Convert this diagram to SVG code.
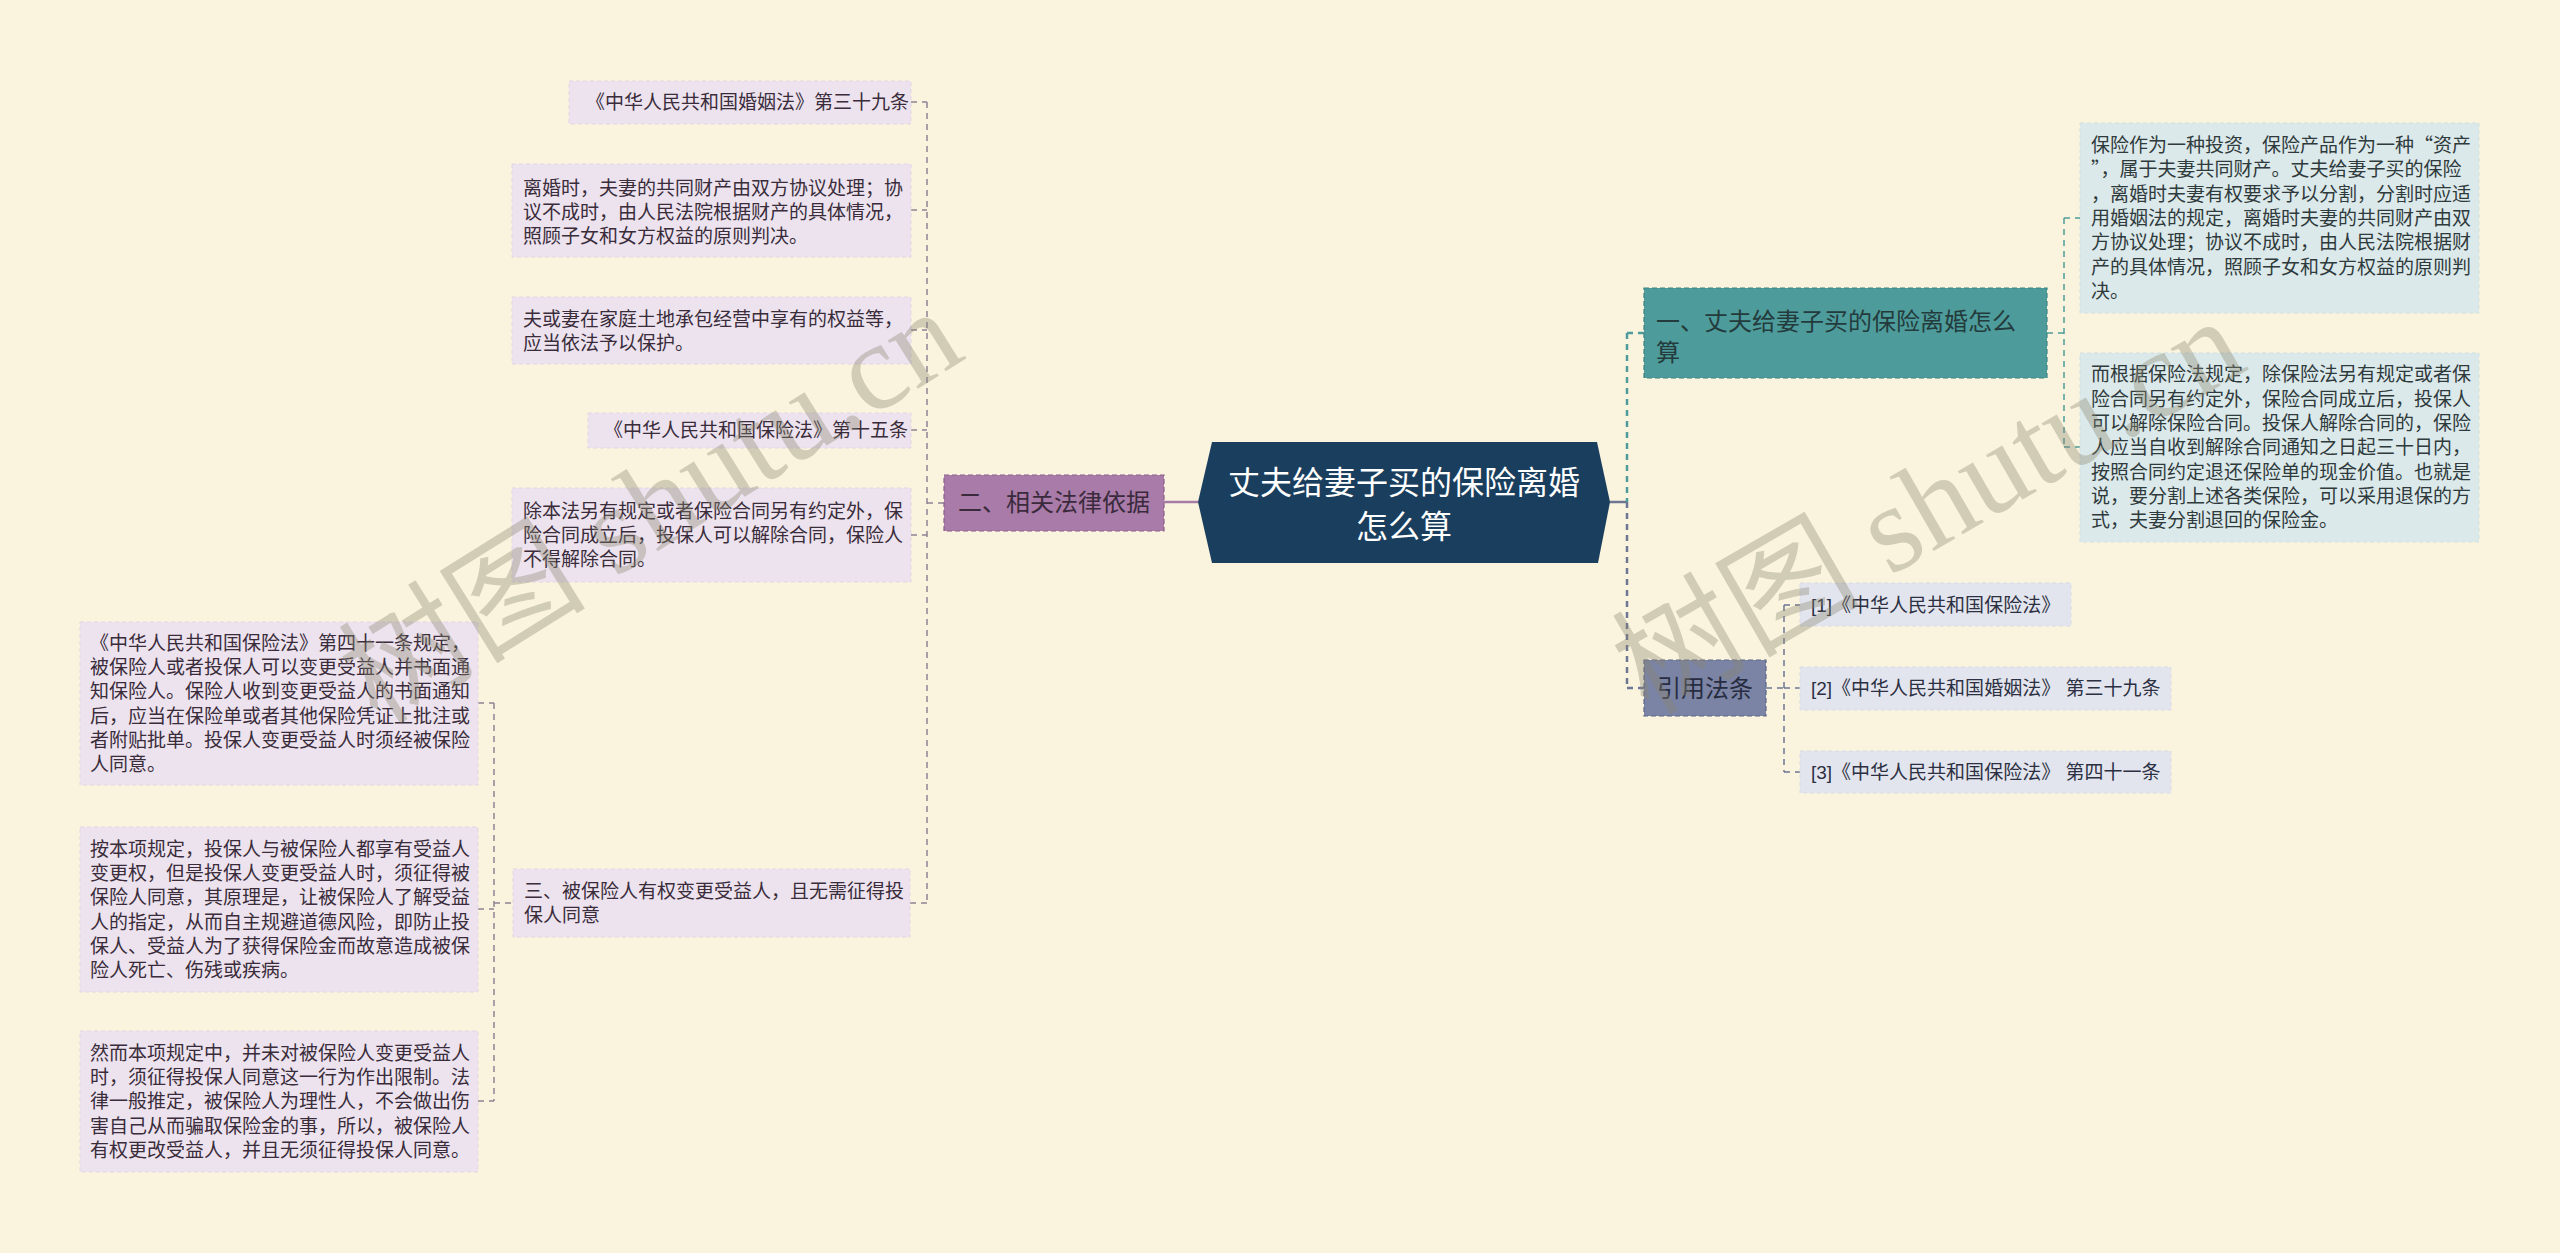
<svg xmlns="http://www.w3.org/2000/svg" width="2560" height="1253" viewBox="0 0 2560 1253">
<style>
text{font-family:"Liberation Sans","Noto Sans CJK SC",sans-serif;}
.t{font-size:19px;fill:#3a2c3a;}
.tr{font-size:19px;fill:#2f3a3c;}
.tc{font-size:19px;fill:#2c3042;}
.q{font-family:"Noto Sans CJK SC",sans-serif;}
.lc{fill:#ece3ee;stroke:#e2d6e5;stroke-width:1;stroke-dasharray:4 3;}
.rc{fill:#dce9ea;stroke:#d0e0e2;stroke-width:1;stroke-dasharray:4 3;}
.cc{fill:#e3e5ee;stroke:#d8dae6;stroke-width:1;stroke-dasharray:4 3;}
.cp{fill:none;stroke:#8f8295;stroke-width:1.5;stroke-dasharray:6 5;}
.ct{fill:none;stroke:#4f9a9a;stroke-width:1.5;stroke-dasharray:6 5;}
.cs{fill:none;stroke:#6e7694;stroke-width:1.5;stroke-dasharray:6 5;}
.wm{font-family:"Liberation Serif","Noto Sans CJK SC",serif;font-size:124px;fill:#8a8670;opacity:0.36;}
</style>
<rect width="2560" height="1253" fill="#faf4de"/>

<g id="connectors">
  <path class="cp" d="M927 102V903"/>
  <path class="cp" d="M911 102H927M911 210H927M911 330H927M911 430H927M911 535H927M910 903H927M927 503H944"/>
  <path class="cp" d="M494 703V1101"/>
  <path class="cp" d="M478 703H494M478 909H494M478 1101H494M494 903H513"/>
  <path d="M1164 502H1198" stroke="#a67ca6" stroke-width="2.5" fill="none"/>
  <path d="M1610 502H1627" stroke="#6e7694" stroke-width="2.5" fill="none"/>
  <path d="M1627 333V502" fill="none" stroke="#4f9a9a" stroke-width="2.5" stroke-dasharray="6 5"/>
  <path d="M1627 502V688" fill="none" stroke="#6e7694" stroke-width="2.5" stroke-dasharray="6 5"/>
  <path d="M1627 333H1644" fill="none" stroke="#4f9a9a" stroke-width="2.5" stroke-dasharray="6 5"/>
  <path d="M1627 688H1644" fill="none" stroke="#6e7694" stroke-width="2.5" stroke-dasharray="6 5"/>
  <path class="ct" d="M2064 218V447M2047 333H2064M2064 218H2080M2064 447H2080"/>
  <path class="cs" d="M1784 605V772M1766 688H1784M1784 605H1800M1784 688H1800M1784 772H1800"/>
</g>

<g id="center">
  <polygon points="1198,502 1212,442 1597,442 1610,502 1598,563 1212,563" fill="#1a3e5d"/>
  <text x="1404" y="494" text-anchor="middle" font-size="32" fill="#ffffff">丈夫给妻子买的保险离婚</text>
  <text x="1404" y="538" text-anchor="middle" font-size="32" fill="#ffffff">怎么算</text>
</g>

<g id="branch-2">
  <rect x="944" y="475" width="220" height="56" fill="#a87ba8" stroke="#8a5f8a" stroke-width="1.2" stroke-dasharray="5 3"/>
  <text x="958" y="511" font-size="24" fill="#3a2a3c">二、相关法律依据</text>
</g>

<g id="l1">
  <rect class="lc" x="569" y="81" width="342" height="43"/>
  <text class="t" x="586" y="109">《中华人民共和国婚姻法》第三十九条</text>
</g>
<g id="l2">
  <rect class="lc" x="512" y="164" width="399" height="93"/>
  <text class="t" x="523" y="195">离婚时，夫妻的共同财产由双方协议处理；协</text>
  <text class="t" x="523" y="219">议不成时，由人民法院根据财产的具体情况，</text>
  <text class="t" x="523" y="243">照顾子女和女方权益的原则判决。</text>
</g>
<g id="l3">
  <rect class="lc" x="512" y="297" width="399" height="67"/>
  <text class="t" x="523" y="326">夫或妻在家庭土地承包经营中享有的权益等，</text>
  <text class="t" x="523" y="350">应当依法予以保护。</text>
</g>
<g id="l4">
  <rect class="lc" x="588" y="413" width="323" height="35"/>
  <text class="t" x="604" y="437">《中华人民共和国保险法》第十五条</text>
</g>
<g id="l5">
  <rect class="lc" x="512" y="488" width="399" height="94"/>
  <text class="t" x="523" y="518">除本法另有规定或者保险合同另有约定外，保</text>
  <text class="t" x="523" y="542">险合同成立后，投保人可以解除合同，保险人</text>
  <text class="t" x="523" y="566">不得解除合同。</text>
</g>
<g id="l6">
  <rect class="lc" x="513" y="869" width="397" height="68"/>
  <text class="t" x="524" y="898">三、被保险人有权变更受益人，且无需征得投</text>
  <text class="t" x="524" y="922">保人同意</text>
</g>
<g id="l6a">
  <rect class="lc" x="80" y="622" width="398" height="163"/>
  <text class="t" x="90" y="650">《中华人民共和国保险法》第四十一条规定，</text>
  <text class="t" x="90" y="674">被保险人或者投保人可以变更受益人并书面通</text>
  <text class="t" x="90" y="698">知保险人。保险人收到变更受益人的书面通知</text>
  <text class="t" x="90" y="723">后，应当在保险单或者其他保险凭证上批注或</text>
  <text class="t" x="90" y="747">者附贴批单。投保人变更受益人时须经被保险</text>
  <text class="t" x="90" y="771">人同意。</text>
</g>
<g id="l6b">
  <rect class="lc" x="80" y="827" width="398" height="165"/>
  <text class="t" x="90" y="856">按本项规定，投保人与被保险人都享有受益人</text>
  <text class="t" x="90" y="880">变更权，但是投保人变更受益人时，须征得被</text>
  <text class="t" x="90" y="904">保险人同意，其原理是，让被保险人了解受益</text>
  <text class="t" x="90" y="929">人的指定，从而自主规避道德风险，即防止投</text>
  <text class="t" x="90" y="953">保人、受益人为了获得保险金而故意造成被保</text>
  <text class="t" x="90" y="977">险人死亡、伤残或疾病。</text>
</g>
<g id="l6c">
  <rect class="lc" x="80" y="1031" width="398" height="141"/>
  <text class="t" x="90" y="1060">然而本项规定中，并未对被保险人变更受益人</text>
  <text class="t" x="90" y="1084">时，须征得投保人同意这一行为作出限制。法</text>
  <text class="t" x="90" y="1108">律一般推定，被保险人为理性人，不会做出伤</text>
  <text class="t" x="90" y="1133">害自己从而骗取保险金的事，所以，被保险人</text>
  <text class="t" x="90" y="1157">有权更改受益人，并且无须征得投保人同意。</text>
</g>

<g id="branch-1">
  <rect x="1644" y="288" width="403" height="90" fill="#4e9b9b" stroke="#3c8283" stroke-width="1.2" stroke-dasharray="5 3"/>
  <text x="1656" y="330" font-size="24" fill="#233b3c">一、丈夫给妻子买的保险离婚怎么</text>
  <text x="1656" y="361" font-size="24" fill="#233b3c">算</text>
</g>
<g id="r1">
  <rect class="rc" x="2080" y="123" width="399" height="190"/>
  <text class="tr" x="2091" y="152">保险作为一种投资，保险产品作为一种<tspan class="q">“</tspan>资产</text>
  <text class="tr" x="2091" y="176"><tspan class="q">”</tspan>，属于夫妻共同财产。丈夫给妻子买的保险</text>
  <text class="tr" x="2091" y="201">，离婚时夫妻有权要求予以分割，分割时应适</text>
  <text class="tr" x="2091" y="225">用婚姻法的规定，离婚时夫妻的共同财产由双</text>
  <text class="tr" x="2091" y="249">方协议处理；协议不成时，由人民法院根据财</text>
  <text class="tr" x="2091" y="274">产的具体情况，照顾子女和女方权益的原则判</text>
  <text class="tr" x="2091" y="298">决。</text>
</g>
<g id="r2">
  <rect class="rc" x="2080" y="353" width="399" height="189"/>
  <text class="tr" x="2091" y="381">而根据保险法规定，除保险法另有规定或者保</text>
  <text class="tr" x="2091" y="406">险合同另有约定外，保险合同成立后，投保人</text>
  <text class="tr" x="2091" y="430">可以解除保险合同。投保人解除合同的，保险</text>
  <text class="tr" x="2091" y="454">人应当自收到解除合同通知之日起三十日内，</text>
  <text class="tr" x="2091" y="479">按照合同约定退还保险单的现金价值。也就是</text>
  <text class="tr" x="2091" y="503">说，要分割上述各类保险，可以采用退保的方</text>
  <text class="tr" x="2091" y="527">式，夫妻分割退回的保险金。</text>
</g>

<g id="branch-3">
  <rect x="1644" y="660" width="122" height="56" fill="#7b84a5" stroke="#5d6686" stroke-width="1.2" stroke-dasharray="5 3"/>
  <text x="1705" y="697" text-anchor="middle" font-size="24" fill="#272c40">引用法条</text>
</g>
<g id="c1">
  <rect class="cc" x="1800" y="583" width="271" height="43"/>
  <text class="tc" x="1811" y="612">[1]《中华人民共和国保险法》</text>
</g>
<g id="c2">
  <rect class="cc" x="1800" y="667" width="371" height="43"/>
  <text class="tc" x="1811" y="695">[2]《中华人民共和国婚姻法》 第三十九条</text>
</g>
<g id="c3">
  <rect class="cc" x="1800" y="751" width="371" height="42"/>
  <text class="tc" x="1811" y="779">[3]《中华人民共和国保险法》 第四十一条</text>
</g>

<g id="watermarks">
  <text class="wm" transform="translate(378,726) rotate(-32)">树图 shutu.cn</text>
  <text class="wm" transform="translate(1648,716) rotate(-30)">树图 shutu.cn</text>
</g>
</svg>
